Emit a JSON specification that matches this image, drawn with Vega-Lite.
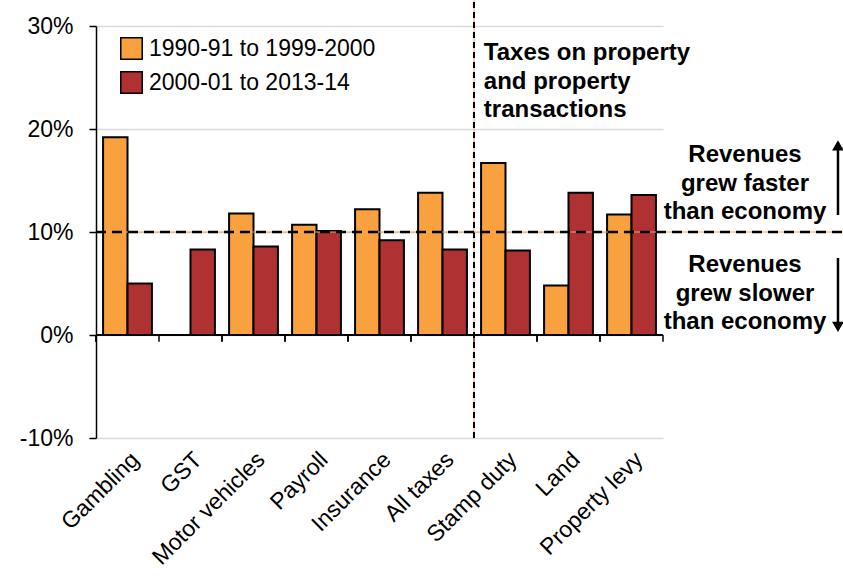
{
  "$schema": "https://vega.github.io/schema/vega-lite/v6.json",
  "width": 567,
  "height": 412,
  "autosize": {"type": "none"},
  "padding": {"left": 96, "top": 26, "right": 180, "bottom": 144},
  "config": {
    "font": "Liberation Sans",
    "view": {"stroke": null},
    "axis": {"labelFont": "Liberation Sans", "labelColor": "#000000"},
    "legend": {"labelFont": "Liberation Sans"}
  },
  "data": {
    "values": [
      {"tax": "Gambling", "period": "1990-91 to 1999-2000", "value": 19.2},
      {"tax": "Gambling", "period": "2000-01 to 2013-14", "value": 5.0},
      {"tax": "GST", "period": "2000-01 to 2013-14", "value": 8.3},
      {"tax": "Motor vehicles", "period": "1990-91 to 1999-2000", "value": 11.8},
      {"tax": "Motor vehicles", "period": "2000-01 to 2013-14", "value": 8.6},
      {"tax": "Payroll", "period": "1990-91 to 1999-2000", "value": 10.7},
      {"tax": "Payroll", "period": "2000-01 to 2013-14", "value": 10.1},
      {"tax": "Insurance", "period": "1990-91 to 1999-2000", "value": 12.2},
      {"tax": "Insurance", "period": "2000-01 to 2013-14", "value": 9.2},
      {"tax": "All taxes", "period": "1990-91 to 1999-2000", "value": 13.8},
      {"tax": "All taxes", "period": "2000-01 to 2013-14", "value": 8.3},
      {"tax": "Stamp duty", "period": "1990-91 to 1999-2000", "value": 16.7},
      {"tax": "Stamp duty", "period": "2000-01 to 2013-14", "value": 8.2},
      {"tax": "Land", "period": "1990-91 to 1999-2000", "value": 4.8},
      {"tax": "Land", "period": "2000-01 to 2013-14", "value": 13.8},
      {"tax": "Property levy", "period": "1990-91 to 1999-2000", "value": 11.7},
      {"tax": "Property levy", "period": "2000-01 to 2013-14", "value": 13.6}
    ]
  },
  "resolve": {"scale": {"x": "independent"}},
  "layer": [
    {
      "mark": {"type": "rect", "stroke": "#000000", "strokeWidth": 2, "strokeOpacity": 1, "fillOpacity": 1},
      "encoding": {
        "x": {
          "field": "tax", "type": "nominal",
          "scale": {"domain": ["Gambling", "GST", "Motor vehicles", "Payroll", "Insurance", "All taxes", "Stamp duty", "Land", "Property levy"], "paddingInner": 0, "paddingOuter": 0},
          "axis": {"title": null, "domain": false, "ticks": false, "grid": false, "labelAngle": -45, "labelAlign": "right", "labelBaseline": "top", "labelFontSize": 23, "labelPadding": 10, "labelLimit": 300}
        },
        "xOffset": {
          "field": "period", "type": "nominal",
          "scale": {"domain": ["1990-91 to 1999-2000", "2000-01 to 2013-14"], "paddingInner": 0, "paddingOuter": 0.29}
        },
        "y": {
          "field": "value", "type": "quantitative",
          "scale": {"domain": [-10, 30], "nice": false, "zero": true},
          "axis": {"title": null, "values": [-10, 0, 10, 20, 30], "labelExpr": "datum.value + '%'", "labelFontSize": 23, "labelPadding": 16, "tickSize": 7, "tickColor": "#000000", "tickWidth": 1.5, "domainColor": "#000000", "domainWidth": 1.5, "gridColor": "#D9D9D9", "gridWidth": 1.5}
        },
        "y2": {"datum": 0},
        "fill": {
          "field": "period", "type": "nominal",
          "scale": {"domain": ["1990-91 to 1999-2000", "2000-01 to 2013-14"], "range": ["#F9A03F", "#B03132"]},
          "legend": {"title": null, "orient": "none", "legendX": 24, "legendY": 11, "padding": 0, "symbolType": "square", "symbolSize": 460, "symbolStrokeColor": "#000000", "symbolStrokeWidth": 1.5, "symbolOpacity": 1, "labelFontSize": 23, "labelOffset": 6, "labelLimit": 400, "rowPadding": 5}
        },
        "stroke": {"value": "#000000"},
        "strokeWidth": {"value": 2}
      }
    },
    {
      "mark": {"type": "rule", "color": "#000000", "strokeWidth": 1.5},
      "encoding": {"y": {"datum": 0}}
    },
    {
      "mark": {"type": "rule", "color": "#000000", "strokeWidth": 1.5},
      "encoding": {
        "x": {"field": "tax", "type": "nominal", "bandPosition": 0,
          "scale": {"domain": ["Gambling", "GST", "Motor vehicles", "Payroll", "Insurance", "All taxes", "Stamp duty", "Land", "Property levy"], "paddingInner": 0, "paddingOuter": 0}, "axis": null},
        "y": {"datum": 0},
        "y2": {"datum": -0.65}
      }
    },
    {
      "data": {"values": [{}]},
      "layer": [
        {
          "mark": {"type": "rule", "color": "#F4A070", "strokeWidth": 1},
          "encoding": {
            "x": {"datum": "Stamp duty", "type": "nominal", "bandPosition": 0,
              "scale": {"domain": ["Gambling", "GST", "Motor vehicles", "Payroll", "Insurance", "All taxes", "Stamp duty", "Land", "Property levy"], "paddingInner": 0, "paddingOuter": 0}, "axis": null},
            "y": {"datum": -10},
            "y2": {"datum": 32.5}
          }
        },
        {
          "mark": {"type": "rule", "color": "#000000", "strokeWidth": 2, "strokeDash": [6, 4]},
          "encoding": {
            "x": {"datum": "Stamp duty", "type": "nominal", "bandPosition": 0,
              "scale": {"domain": ["Gambling", "GST", "Motor vehicles", "Payroll", "Insurance", "All taxes", "Stamp duty", "Land", "Property levy"], "paddingInner": 0, "paddingOuter": 0}, "axis": null},
            "y": {"datum": -10},
            "y2": {"datum": 32.5}
          }
        }
      ],
      "resolve": {"scale": {"x": "shared"}}
    },
    {
      "data": {"values": [{}]},
      "layer": [
        {
          "mark": {"type": "rule", "color": "#000000", "strokeWidth": 1.5},
          "encoding": {
            "x": {"datum": 1, "type": "quantitative", "scale": {"domain": [0, 1], "nice": false, "zero": false}, "axis": null},
            "y": {"datum": 0},
            "y2": {"datum": -0.65}
          }
        },
        {
          "mark": {"type": "rule", "color": "#F4A070", "strokeWidth": 1},
          "encoding": {
            "x": {"datum": 0, "type": "quantitative", "scale": {"domain": [0, 1], "nice": false, "zero": false}, "axis": null},
            "x2": {"datum": 1.3175},
            "y": {"datum": 10}
          }
        },
        {
          "mark": {"type": "rule", "color": "#000000", "strokeWidth": 2.5, "strokeDash": [10, 6]},
          "encoding": {
            "x": {"datum": 0, "type": "quantitative", "scale": {"domain": [0, 1], "nice": false, "zero": false}, "axis": null},
            "x2": {"datum": 1.3175},
            "y": {"datum": 10}
          }
        },
        {
          "mark": {"type": "text", "align": "left", "baseline": "top", "fontSize": 24, "fontWeight": "bold", "lineHeight": 28.5, "color": "#000000"},
          "encoding": {
            "x": {"datum": 0.684, "type": "quantitative", "scale": {"domain": [0, 1], "nice": false, "zero": false}, "axis": null},
            "y": {"datum": 28.5},
            "text": {"value": ["Taxes on property", "and property", "transactions"]}
          }
        },
        {
          "mark": {"type": "text", "align": "center", "baseline": "top", "fontSize": 24, "fontWeight": "bold", "lineHeight": 28.5, "color": "#000000"},
          "encoding": {
            "x": {"datum": 1.1446, "type": "quantitative", "scale": {"domain": [0, 1], "nice": false, "zero": false}, "axis": null},
            "y": {"datum": 18.64},
            "text": {"value": ["Revenues", "grew faster", "than economy"]}
          }
        },
        {
          "mark": {"type": "text", "align": "center", "baseline": "top", "fontSize": 24, "fontWeight": "bold", "lineHeight": 28.5, "color": "#000000"},
          "encoding": {
            "x": {"datum": 1.1446, "type": "quantitative", "scale": {"domain": [0, 1], "nice": false, "zero": false}, "axis": null},
            "y": {"datum": 7.96},
            "text": {"value": ["Revenues", "grew slower", "than economy"]}
          }
        },
        {
          "mark": {"type": "rule", "color": "#000000", "strokeWidth": 2.5},
          "encoding": {
            "x": {"datum": 1.3086, "type": "quantitative", "scale": {"domain": [0, 1], "nice": false, "zero": false}, "axis": null},
            "y": {"datum": 11.65},
            "y2": {"datum": 18.4}
          }
        },
        {
          "mark": {"type": "point", "shape": "triangle-up", "filled": true, "color": "#000000", "size": 140, "opacity": 1},
          "encoding": {
            "x": {"datum": 1.3086, "type": "quantitative", "scale": {"domain": [0, 1], "nice": false, "zero": false}, "axis": null},
            "y": {"datum": 18.4}
          }
        },
        {
          "mark": {"type": "rule", "color": "#000000", "strokeWidth": 2.5},
          "encoding": {
            "x": {"datum": 1.3086, "type": "quantitative", "scale": {"domain": [0, 1], "nice": false, "zero": false}, "axis": null},
            "y": {"datum": 7.48},
            "y2": {"datum": 0.8}
          }
        },
        {
          "mark": {"type": "point", "shape": "triangle-down", "filled": true, "color": "#000000", "size": 140, "opacity": 1},
          "encoding": {
            "x": {"datum": 1.3086, "type": "quantitative", "scale": {"domain": [0, 1], "nice": false, "zero": false}, "axis": null},
            "y": {"datum": 0.8}
          }
        }
      ],
      "resolve": {"scale": {"x": "shared"}}
    }
  ]
}
